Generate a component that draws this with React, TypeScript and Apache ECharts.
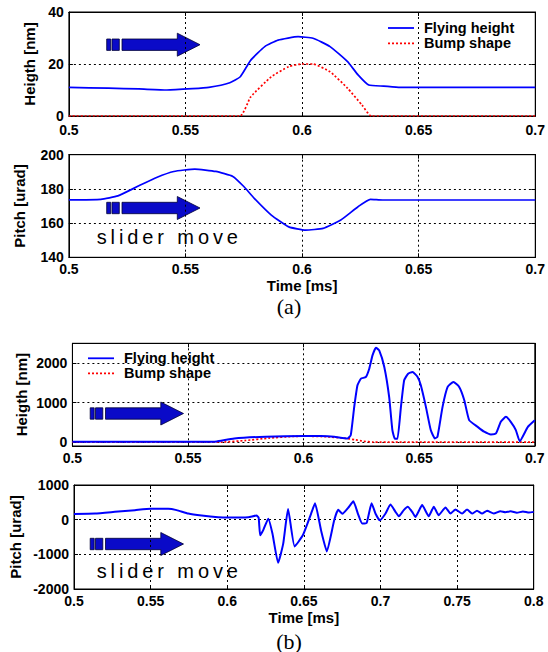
import React, { useEffect, useRef } from "react";
import * as echarts from "echarts";

// ---------- (a) upper panel: flying height / bump ----------
const heightA_t = [0.5, 0.517, 0.53, 0.542, 0.553, 0.56, 0.569, 0.5735, 0.578, 0.584, 0.5897, 0.5983, 0.6047, 0.612, 0.6195, 0.624, 0.6286, 0.635, 0.642, 0.7];
const heightA_v = [11.0, 10.7, 10.4, 10.0, 10.5, 11.0, 12.8, 15.1, 21.5, 26.7, 29.2, 30.5, 29.9, 26.7, 20.9, 15.8, 11.9, 11.5, 11.0, 11.0];
const bumpA_t = [0.5, 0.5734, 0.578, 0.5868, 0.5943, 0.5998, 0.6047, 0.612, 0.6195, 0.6257, 0.6297, 0.7];
const bumpA_v = [0, 0, 7.4, 15.1, 19, 20, 20, 17, 10.7, 4.2, 0, 0];

// ---------- (a) lower panel: pitch ----------
const pitchA_t = [0.5, 0.5137, 0.521, 0.53, 0.5376, 0.545, 0.554, 0.563, 0.5703, 0.575, 0.5795, 0.5868, 0.5943, 0.6015, 0.609, 0.6166, 0.624, 0.6293, 0.6345, 0.7];
const pitchA_v = [173.6, 173.9, 175.9, 181.8, 186.7, 190.2, 191.6, 190.2, 187.3, 181.4, 174.5, 164.7, 157.8, 155.9, 156.9, 161.8, 169.6, 173.9, 173.5, 173.5];

// ---------- (b) upper panel: flying height / bump ----------
const heightB_t = [0.5, 0.56, 0.5624, 0.57, 0.5836, 0.6, 0.6075, 0.6132, 0.619, 0.6204, 0.6219, 0.6233, 0.6248, 0.6269, 0.6284, 0.6298, 0.6313, 0.6327, 0.6349, 0.637, 0.6384, 0.6395, 0.6406, 0.6421, 0.6435, 0.6452, 0.6471, 0.6493, 0.6507, 0.6529, 0.655, 0.6568, 0.6579, 0.6601, 0.6623, 0.6648, 0.6673, 0.6695, 0.6716, 0.6752, 0.6781, 0.681, 0.6832, 0.6853, 0.6875, 0.6896, 0.6918, 0.6935, 0.697, 0.7];
const heightB_v = [10, 10, 15, 90, 135, 152, 151, 134, 92, 176, 891, 1437, 1605, 1647, 1857, 2193, 2387, 2319, 1899, 1143, 303, 84, 84, 891, 1563, 1731, 1773, 1647, 1437, 891, 303, 92, 134, 891, 1395, 1521, 1395, 1059, 555, 387, 261, 193, 218, 513, 639, 513, 303, 20, 383, 550];
const bumpB_t = [0.5, 0.565, 0.575, 0.585, 0.595, 0.6, 0.61, 0.618, 0.622, 0.626, 0.63, 0.7];
const bumpB_v = [0, 0, 40, 100, 140, 150, 135, 95, 60, 20, 0, 0];

// ---------- (b) lower panel: pitch ----------
const pitchB_t = [0.5, 0.5137, 0.5267, 0.5398, 0.55, 0.5615, 0.567, 0.5746, 0.5833, 0.5941, 0.6007, 0.6137, 0.6191, 0.6205, 0.6215, 0.6235, 0.6268, 0.6295, 0.6332, 0.6365, 0.6397, 0.644, 0.6494, 0.6547, 0.6573, 0.6612, 0.665, 0.6698, 0.6724, 0.6752, 0.6789, 0.6823, 0.6853, 0.6881, 0.691, 0.6942, 0.6968, 0.6996, 0.7033, 0.7065, 0.7098, 0.712, 0.7152, 0.7178, 0.7207, 0.7228, 0.7272, 0.7315, 0.7348, 0.738, 0.7424, 0.7457, 0.7489, 0.7533, 0.7565, 0.7598, 0.763, 0.7663, 0.7696, 0.7739, 0.7783, 0.7815, 0.785, 0.789, 0.793, 0.797, 0.8];
const pitchB_v = [167, 176, 225, 275, 314, 314, 275, 176, 118, 69, 59, 69, 118, 60, -450, -300, 30, -400, -1245, -700, 311, -774, -443, 170, 472, -302, -915, -19, 283, 170, 340, 528, 170, -113, -94, 472, 170, -19, 176, 441, 225, 98, 275, 373, 225, 78, 421, 98, 373, 127, 353, 176, 294, 176, 294, 176, 255, 176, 255, 176, 245, 216, 240, 200, 235, 205, 225];

// tick labels
const yTicksA1 = [0, 20, 40];
const yTicksA2 = [140, 160, 180, 200];
const yTicksB1 = [0, 1000, 2000];
const yTicksB2 = [-2000, -1000, 0, 1000];

const legendNames = ["Flying height", "Bump shape"];

const FONT = '"Liberation Sans", Arial, Helvetica, sans-serif';
const BLUE = "#0000ff";
const RED = "#ff0000";

const pairs = (t: number[], v: number[]) => t.map((x, i) => [x, v[i]]);

function App() {
  const ref = useRef<HTMLDivElement>(null);
  useEffect(() => {
    if (!ref.current) return;
    const chart = echarts.init(ref.current, undefined, { renderer: "svg" });

    const grids = [
      { left: 68.9, top: 12, width: 469.4, height: 104 },
      { left: 68.9, top: 154.7, width: 469.4, height: 102.6 },
      { left: 72.4, top: 343.3, width: 462.4, height: 102.7 },
      { left: 72.4, top: 485, width: 461.3, height: 104 },
    ].map((g) => ({ ...g, show: true, borderColor: "#000", borderWidth: 1, containLabel: false }));

    const fmtX = (v: number) => String(parseFloat(v.toFixed(3)));
    const fmtY = (v: number) => String(Math.round(v));
    const labelStyle = { color: "#000", fontSize: 14, lineHeight: 12, fontWeight: "bold" as const, fontFamily: FONT };
    const nameStyle = { color: "#000", fontSize: 15, fontWeight: "bold" as const, fontFamily: FONT };
    const split = { show: true, lineStyle: { color: "#000", type: [2, 3] as any, width: 1 } };

    const xMain = (gi: number, max: number, margin: number, name?: string, gap = 12) => ({
      type: "value", gridIndex: gi, min: 0.5, max, interval: 0.05, position: "bottom",
      axisLine: { show: true, onZero: false, lineStyle: { color: "#000", width: 1 } },
      axisTick: { show: true, inside: true, length: 4, lineStyle: { color: "#000" } },
      axisLabel: { ...labelStyle, margin, formatter: fmtX },
      splitLine: split,
      name: name || "", nameLocation: "middle", nameGap: gap, nameMoveOverlap: false, nameTextStyle: nameStyle,
    });
    const xTop = (gi: number, max: number) => ({
      type: "value", gridIndex: gi, min: 0.5, max, interval: 0.05, position: "top",
      axisLine: { show: true, onZero: false, lineStyle: { color: "#000", width: 1 } },
      axisTick: { show: true, inside: true, length: 4, lineStyle: { color: "#000" } },
      axisLabel: { show: false }, splitLine: { show: false },
    });
    const yMain = (gi: number, min: number, max: number, interval: number | null, ticks: number[], name: string, gap: number) => {
      const ax: any = {
        type: "value", gridIndex: gi, min, max, position: "left",
        axisLine: { show: true, onZero: false, lineStyle: { color: "#000", width: 1 } },
        axisTick: { show: true, inside: true, length: 4, lineStyle: { color: "#000" } },
        axisLabel: { ...labelStyle, margin: 5, formatter: fmtY },
        splitLine: split,
        name, nameLocation: "middle", nameGap: gap, nameMoveOverlap: false, nameTextStyle: nameStyle,
      };
      if (interval) ax.interval = interval;
      else {
        ax.axisLabel.customValues = ticks;
        ax.axisTick.customValues = ticks;
      }
      return ax;
    };
    const yRight = (gi: number, min: number, max: number, interval: number | null, ticks: number[]) => {
      const ax: any = {
        type: "value", gridIndex: gi, min, max, position: "right",
        axisLine: { show: true, onZero: false, lineStyle: { color: "#000", width: 1 } },
        axisTick: { show: true, inside: true, length: 4, lineStyle: { color: "#000" } },
        axisLabel: { show: false }, splitLine: { show: false },
      };
      if (interval) ax.interval = interval;
      else ax.axisTick.customValues = ticks;
      return ax;
    };

    const xAxis = [
      xMain(0, 0.7, 8), xMain(1, 0.7, 6, "Time [ms]", 21), xMain(2, 0.7, 6), xMain(3, 0.8, 6, "Time [ms]", 21),
      xTop(0, 0.7), xTop(1, 0.7), xTop(2, 0.7), xTop(3, 0.8),
    ];
    const yAxis = [
      yMain(0, yTicksA1[0], yTicksA1[yTicksA1.length - 1], 20, yTicksA1, "Heigth [nm]", 32),
      yMain(1, yTicksA2[0], yTicksA2[yTicksA2.length - 1], 20, yTicksA2, "Pitch [urad]", 42),
      yMain(2, -100, 2500, null, yTicksB1, "Heigth [nm]", 43),
      yMain(3, yTicksB2[0], yTicksB2[yTicksB2.length - 1], 1000, yTicksB2, "Pitch [urad]", 51),
      yRight(0, 0, 40, 20, yTicksA1), yRight(1, 140, 200, 20, yTicksA2),
      yRight(2, -100, 2500, null, yTicksB1), yRight(3, -2000, 1000, 1000, yTicksB2),
    ];

    const line = (name: string, xi: number, data: number[][], color: string, dotted = false, width = 1.7) => ({
      type: "line", name, xAxisIndex: xi, yAxisIndex: xi, data, showSymbol: false, symbol: "none",
      smooth: 0.15, lineStyle: { color, width, type: dotted ? [2, 2] : "solid" },
      itemStyle: { color }, z: dotted ? 3 : 4,
    });

    const series = [
      line(legendNames[0], 0, pairs(heightA_t, heightA_v), BLUE),
      line(legendNames[1], 0, pairs(bumpA_t, bumpA_v), RED, true),
      line("Pitch", 1, pairs(pitchA_t, pitchA_v), BLUE),
      line(legendNames[0], 2, pairs(heightB_t, heightB_v), BLUE, false, 2),
      line(legendNames[1], 2, pairs(bumpB_t, bumpB_v), RED, true),
      line("Pitch", 3, pairs(pitchB_t, pitchB_v), BLUE, false, 2),
    ];

    // arrow annotation
    const arrow = (x: number, y: number) => ({
      type: "group", x, y, silent: true,
      children: [
        { type: "rect", shape: { x: 0, y: -5.7, width: 4, height: 11.4 }, style: { fill: "#0a0ac8", stroke: "#000033", lineWidth: 0.8 } },
        { type: "rect", shape: { x: 5.3, y: -5.7, width: 7.3, height: 11.4 }, style: { fill: "#0a0ac8", stroke: "#000033", lineWidth: 0.8 } },
        {
          type: "polygon",
          shape: { points: [[15.3, -5.7], [70.6, -5.7], [70.6, -11.5], [93.3, 0], [70.6, 11.5], [70.6, 5.7], [15.3, 5.7]] },
          style: { fill: "#0a0ac8", stroke: "#000033", lineWidth: 0.8 },
        },
      ],
    });

    // spaced text "slider move"
    const spacedText = (str: string, x: number, baseline: number) => {
      const c = document.createElement("canvas").getContext("2d")!;
      const font = '20px "Liberation Sans", Arial, sans-serif';
      c.font = font;
      let cx = 0;
      const children: any[] = [];
      for (const ch of str) {
        if (ch !== " ") {
          children.push({ type: "text", x: cx, y: 0, style: { text: ch, font, fill: "#000", textAlign: "left", textVerticalAlign: "bottom", align: "left", verticalAlign: "bottom" } });
        }
        cx += c.measureText(ch).width + 3.9;
      }
      return { type: "group", x, y: baseline + 4, silent: true, children };
    };

    const legend = (x: number, y1: number, y2: number) => ({
      type: "group", x, y: 0, silent: true,
      children: [
        { type: "line", shape: { x1: 0, y1, x2: 26, y2: y1 }, style: { stroke: BLUE, lineWidth: 1.8 } },
        { type: "line", shape: { x1: 0, y1: y2, x2: 26, y2: y2 }, style: { stroke: RED, lineWidth: 1.8, lineDash: [2, 2] } },
        { type: "text", x: 36, y: y1, style: { text: legendNames[0], font: 'bold 14.5px "Liberation Sans", Arial, sans-serif', fill: "#000", textVerticalAlign: "middle", verticalAlign: "middle" } },
        { type: "text", x: 36, y: y2, style: { text: legendNames[1], font: 'bold 14.5px "Liberation Sans", Arial, sans-serif', fill: "#000", textVerticalAlign: "middle", verticalAlign: "middle" } },
      ],
    });

    const caption = (s: string, x: number, y: number) => ({
      type: "text", x, y, silent: true,
      style: { text: s, font: '22px "Liberation Serif", "Times New Roman", serif', fill: "#000", textAlign: "center", textVerticalAlign: "middle", align: "center", verticalAlign: "middle" },
    });

    chart.setOption({
      animation: false,
      backgroundColor: "#fff",
      grid: grids,
      xAxis,
      yAxis,
      series,
      graphic: [
        arrow(106.7, 44.7),
        arrow(106.7, 208),
        arrow(90.2, 413.5),
        arrow(90.2, 544),
        spacedText("slider move", 96.7, 243.3),
        spacedText("slider move", 96.7, 577),
        legend(388, 28, 43.3),
        legend(88, 358.3, 373.3),
        caption("(a)", 289, 306),
        caption("(b)", 289, 641),
      ],
    });
    return () => chart.dispose();
  }, []);
  return <div ref={ref} style={{ position: "absolute", left: 0, top: 0, width: 548, height: 652 }} />;
}

export default App;
